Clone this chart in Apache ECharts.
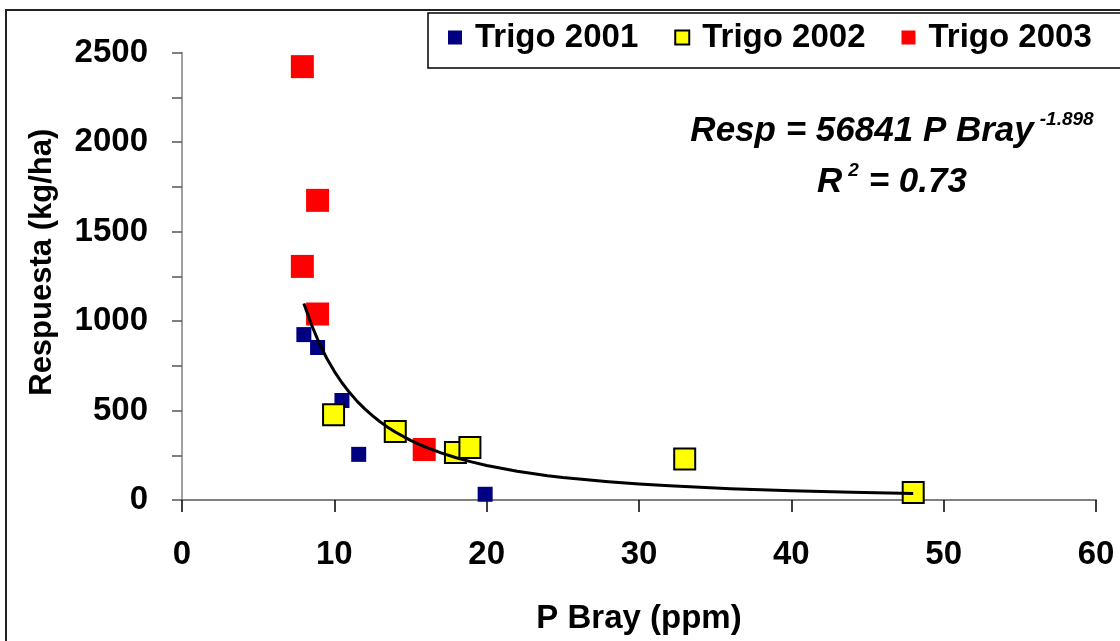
<!DOCTYPE html>
<html>
<head>
<meta charset="utf-8">
<script src="https://cdn.jsdelivr.net/npm/echarts@6/dist/echarts.min.js"></script>
<style>
html,body{margin:0;padding:0;background:#fff;}
#chart{width:1120px;height:641px;}
</style>
</head>
<body>
<div id="chart"></div>
<script>
// ---- data ----
const seriesNames = ['Trigo 2001', 'Trigo 2002', 'Trigo 2003'];
const trigo2001 = [[8.0, 924], [8.9, 852], [10.5, 556], [11.6, 255], [19.9, 32]];
const trigo2002 = [[9.95, 476], [14.0, 383], [17.95, 265], [18.9, 293], [33.0, 229], [48.0, 42]];
const trigo2003 = [[7.9, 2421], [8.9, 1674], [7.9, 1305], [8.9, 1039], [15.9, 282]];
// fitted curve as drawn in the reference (Resp = 56841 P Bray^-1.898)
const trendX = [8, 8.5, 9, 9.5, 10, 10.5, 11, 11.5, 12, 12.5, 13, 13.5, 14, 15, 16, 17, 18, 19, 20, 22, 24, 25, 28, 30, 32, 36, 40, 44, 48];
const trendY = [1098, 979, 878, 792, 719, 655, 600, 551, 509, 471, 437, 407, 380, 333, 295, 263, 236, 213, 193, 161, 136, 126, 102, 89, 79, 63, 52, 43, 37];
const xTicks = [0, 10, 20, 30, 40, 50, 60];
const yTicks = [0, 500, 1000, 1500, 2000, 2500];
const eqLine1 = 'Resp = 56841 P Bray';
const eqExp = '-1.898';
const eqLine2a = 'R';
const eqLine2sup = '2';
const eqLine2b = ' = 0.73';
const xTitle = 'P Bray (ppm)';
const yTitle = 'Respuesta (kg/ha)';

const FONT = 'Liberation Sans, Arial, sans-serif';
const chart = echarts.init(document.getElementById('chart'));

const trendData = trendX.map((x, i) => [x, trendY[i]]);

chart.setOption({
  backgroundColor: '#fff',
  animation: false,
  textStyle: { fontFamily: FONT },
  grid: { left: 182, right: 24, top: 52.5, bottom: 141, containLabel: false },
  legend: {
    data: seriesNames,
    left: 448, top: 21,
    padding: 0,
    itemGap: 36,
    itemWidth: 14, itemHeight: 14,
    icon: 'rect',
    textStyle: { fontFamily: FONT, fontWeight: 'bold', fontSize: 33, color: '#000', padding: [0, 0, 0, 8] }
  },
  xAxis: {
    type: 'value', min: xTicks[0], max: xTicks[xTicks.length - 1], interval: 10,
    name: xTitle, nameLocation: 'middle', nameGap: 102,
    nameTextStyle: { fontFamily: FONT, fontWeight: 'bold', fontSize: 33, color: '#000' },
    axisLine: { show: true, onZero: false, lineStyle: { color: '#808080', width: 2 } },
    axisTick: { show: true, inside: false, length: 12, lineStyle: { color: '#000', width: 1.5 } },
    axisLabel: { margin: 38, fontFamily: FONT, fontWeight: 'bold', fontSize: 33, color: '#000' },
    splitLine: { show: false }
  },
  yAxis: {
    type: 'value', min: yTicks[0], max: yTicks[yTicks.length - 1], interval: 500,
    name: yTitle, nameLocation: 'middle', nameGap: 124,
    nameTextStyle: { fontFamily: FONT, fontWeight: 'bold', fontSize: 31, color: '#000', padding: [0, 0, 0, 28] },
    axisLine: { show: true, onZero: false, lineStyle: { color: '#808080', width: 1.5 } },
    axisTick: { show: true, inside: false, length: 10, lineStyle: { color: '#555', width: 1.5 } },
    minorTick: { show: true, splitNumber: 2, length: 10, lineStyle: { color: '#555', width: 1.5 } },
    axisLabel: { margin: 34, fontFamily: FONT, fontWeight: 'bold', fontSize: 33, color: '#000',
      formatter: v => String(v) },
    splitLine: { show: false }
  },
  series: [
    {
      name: seriesNames[0], type: 'scatter', data: trigo2001,
      symbol: 'rect', symbolSize: 15,
      itemStyle: { color: '#000080', opacity: 1 }, z: 2
    },
    {
      name: seriesNames[1], type: 'scatter', data: trigo2002,
      symbol: 'rect', symbolSize: 21,
      itemStyle: { color: '#FFFF00', borderColor: '#000', borderWidth: 2, opacity: 1 }, z: 3
    },
    {
      name: seriesNames[2], type: 'scatter', data: trigo2003,
      symbol: 'rect', symbolSize: 23,
      itemStyle: { color: '#FF0000', opacity: 1 }, z: 4
    },
    {
      name: 'Ajuste', type: 'line', data: trendData,
      showSymbol: false, symbol: 'none', smooth: false,
      lineStyle: { color: '#000', width: 3, join: 'round' }, z: 6, silent: true
    }
  ],
  graphic: [
    {
      type: 'rect', silent: true, z: -1,
      shape: { x: 6, y: 10, width: 1130, height: 650 },
      style: { fill: 'none', stroke: '#222', lineWidth: 2 }
    },
    {
      type: 'rect', silent: true, z: 0,
      shape: { x: 428, y: 13, width: 710, height: 55 },
      style: { fill: '#fff', stroke: '#000', lineWidth: 1.5 }
    },
    {
      type: 'text', x: 892, y: 110, z: 10,
      style: {
        text: '{a|' + eqLine1 + '}{s|' + eqExp + '}',
        textAlign: 'center',
        rich: {
          a: { fontFamily: FONT, fontWeight: 'bold', fontStyle: 'italic', fontSize: 35, lineHeight: 42, fill: '#000' },
          s: { fontFamily: FONT, fontWeight: 'bold', fontStyle: 'italic', fontSize: 19, lineHeight: 19, verticalAlign: 'top', fill: '#000', padding: [0, 0, 0, 6] }
        }
      }
    },
    {
      type: 'text', x: 892, y: 161, z: 10,
      style: {
        text: '{a|' + eqLine2a + '}{s|' + eqLine2sup + '}{a|' + eqLine2b + '}',
        textAlign: 'center',
        rich: {
          a: { fontFamily: FONT, fontWeight: 'bold', fontStyle: 'italic', fontSize: 35, lineHeight: 42, fill: '#000' },
          s: { fontFamily: FONT, fontWeight: 'bold', fontStyle: 'italic', fontSize: 19, lineHeight: 19, verticalAlign: 'top', fill: '#000', padding: [0, 0, 0, 6] }
        }
      }
    }
  ]
});
</script>
</body>
</html>
